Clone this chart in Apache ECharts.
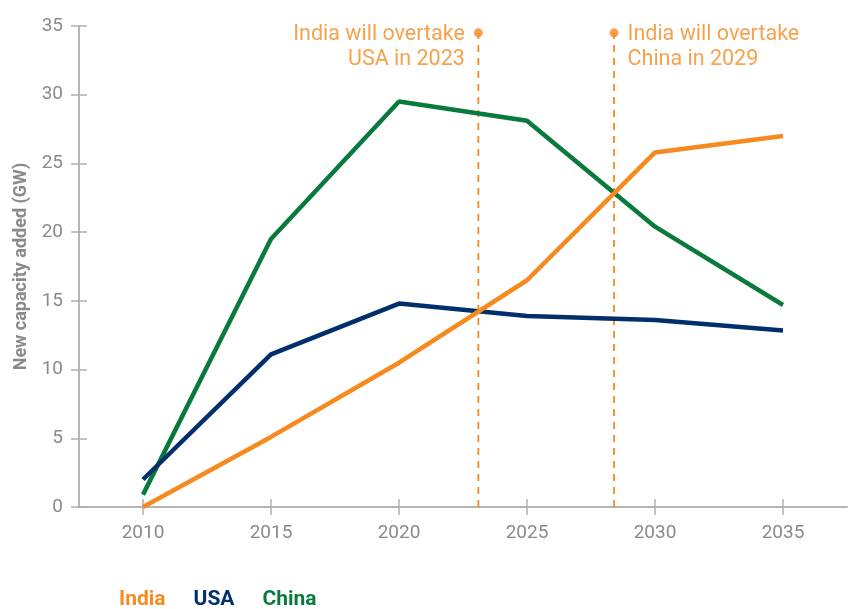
<!DOCTYPE html>
<html><head><meta charset="utf-8">
<script src="https://cdn.jsdelivr.net/npm/echarts@6/dist/echarts.min.js"></script>
<style>html,body{margin:0;padding:0;background:#fff}#c{width:857px;height:609px}</style>
</head><body><div id="c"></div>
<script>
const years = [2010, 2015, 2020, 2025, 2030, 2035];
const india = [0, 5.1, 10.5, 16.5, 25.8, 27.0];
const usa = [2.0, 11.1, 14.8, 13.9, 13.6, 12.85];
const china = [0.9, 19.5, 29.5, 28.1, 20.4, 14.7];
const markerYears = [2023.1, 2028.4];
const markerTop = 34.5;
const markerTexts = ['India will overtake\nUSA in 2023', 'India will overtake\nChina in 2029'];

const ORANGE = '#F68A1F', NAVY = '#002F6C', GREEN = '#0A7A3C', AX = '#b0b0b0', LBL = '#8a8a8a';
const pair = (xs, ys) => xs.map((x, i) => [x, ys[i]]);

const grid = {left: 79, right: 10, top: 26, bottom: 102, containLabel: false, outerBoundsMode: 'none'};
const xBase = {type: 'value', min: 2007.5, max: 2037.5, interval: 5, splitLine: {show: false},
  axisLine: {show: true, lineStyle: {color: AX, width: 1.5}}};
const yBase = {type: 'value', min: 0, max: 35, interval: 5, splitLine: {show: false},
  axisLine: {show: true, lineStyle: {color: AX, width: 1.5}}};

const chart = echarts.init(document.getElementById('c'));
chart.setOption({
  animation: false,
  grid: grid,
  xAxis: [
    Object.assign({}, xBase, {
      axisTick: {show: true, length: 8, lineStyle: {color: AX, width: 1.5},
        customValues: years},
      axisLabel: {color: LBL, fontSize: 19, fontFamily: 'Roboto', margin: 17,
        customValues: years, formatter: v => String(v)}
    }),
    Object.assign({}, xBase, {
      position: 'bottom',
      axisTick: {show: true, inside: true, length: 8, lineStyle: {color: AX, width: 1.5}, customValues: years},
      axisLabel: {show: false}
    })
  ],
  yAxis: [
    Object.assign({}, yBase, {
      name: 'New capacity added (GW)', nameLocation: 'middle', nameGap: 49,
      nameTextStyle: {color: LBL, fontSize: 18, fontWeight: 'bold', fontFamily: 'Roboto'},
      axisTick: {show: true, length: 8, lineStyle: {color: AX, width: 1.5}},
      axisLabel: {color: LBL, fontSize: 19, fontFamily: 'Roboto', margin: 16}
    }),
    Object.assign({}, yBase, {
      position: 'left',
      axisTick: {show: true, inside: true, length: 8, lineStyle: {color: AX, width: 1.5}},
      axisLabel: {show: false}
    })
  ],
  legend: {
    left: 114, top: 589, padding: 0, itemWidth: 0, itemHeight: 0, itemGap: 23, icon: 'rect',
    selectedMode: false,
    textStyle: {fontSize: 21, fontWeight: 'bold', fontFamily: 'Roboto'},
    data: [
      {name: 'India', textStyle: {color: ORANGE}},
      {name: 'USA', textStyle: {color: NAVY}},
      {name: 'China', textStyle: {color: GREEN}}
    ]
  },
  series: [
    {name: 'China', type: 'line', data: pair(years, china), symbol: 'none',
      lineStyle: {color: GREEN, width: 4.5}, itemStyle: {color: GREEN}, z: 3},
    {name: 'USA', type: 'line', data: pair(years, usa), symbol: 'none',
      lineStyle: {color: NAVY, width: 4.5}, itemStyle: {color: NAVY}, z: 4},
    {name: 'India', type: 'line', data: pair(years, india), symbol: 'none',
      lineStyle: {color: ORANGE, width: 4.5}, itemStyle: {color: ORANGE}, z: 5},
    ...markerYears.map((yr, i) => ({
      name: 'marker' + i, type: 'line', data: [[yr, 0], [yr, markerTop]],
      symbol: 'none', lineStyle: {color: ORANGE, width: 1.8, type: [7, 6]}, z: 2, silent: true
    })),
    {name: 'markerDots', type: 'scatter', symbolSize: 9, itemStyle: {color: ORANGE}, z: 6,
      data: markerYears.map((yr, i) => ({
        value: [yr, markerTop],
        label: {show: true, position: i === 0 ? 'left' : 'right', distance: 9, offset: [0, 14],
          formatter: markerTexts[i], color: ORANGE, fontSize: 21.5, fontFamily: 'Roboto', lineHeight: 25}
      }))
    }
  ]
});
</script></body></html>
